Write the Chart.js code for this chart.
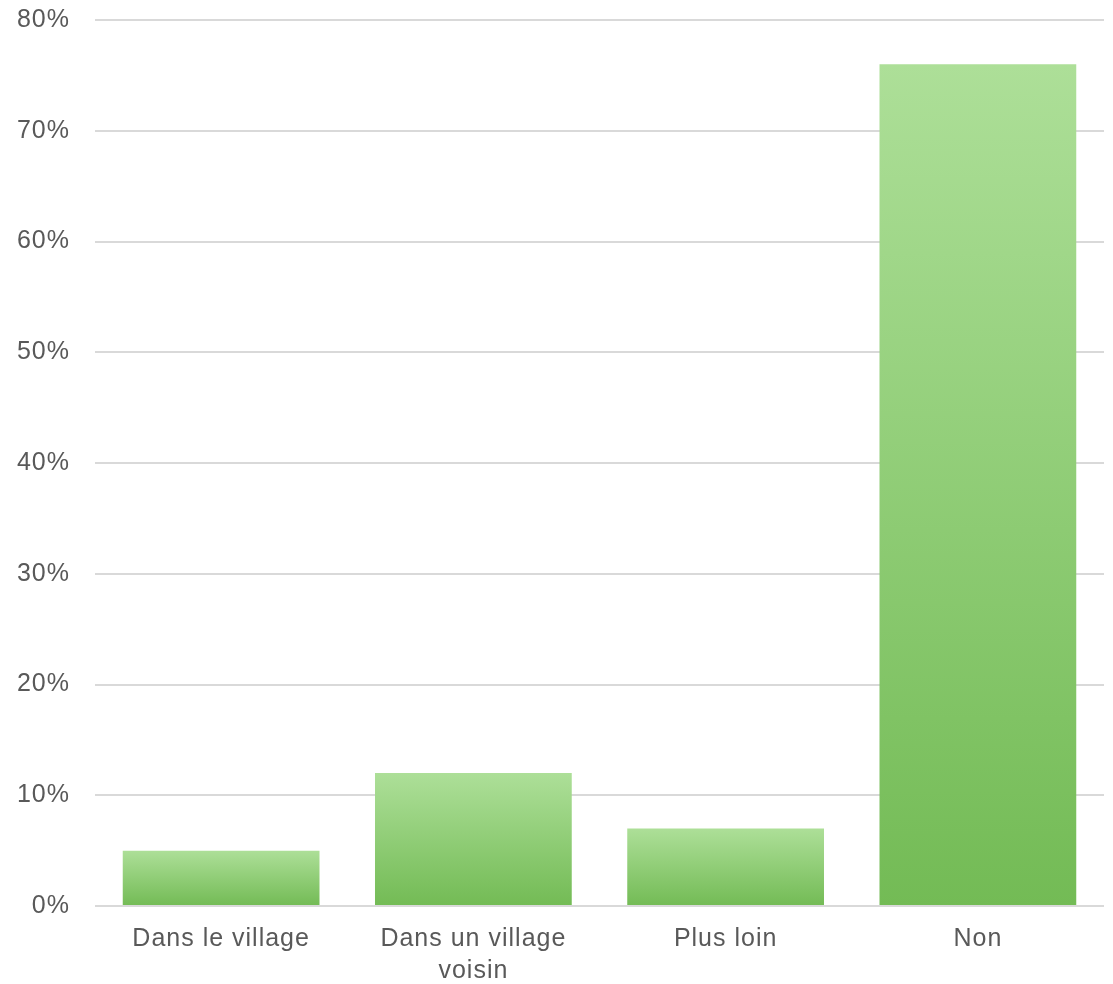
<!DOCTYPE html>
<html>
<head>
<meta charset="utf-8">
<script src="https://cdn.jsdelivr.net/npm/chart.js@4/dist/chart.umd.min.js"></script>
<style>
  html, body { margin: 0; padding: 0; background: #ffffff; }
  #wrap { width: 1113px; height: 984px; position: relative; }
</style>
</head>
<body>
<div id="wrap"><canvas id="c" width="1113" height="984"></canvas></div>
<script>
const categories = [["Dans le village"], ["Dans un village", "voisin"], ["Plus loin"], ["Non"]];
const values = [5, 12, 7, 76];
const yTicks = [0, 10, 20, 30, 40, 50, 60, 70, 80];

function barGradient(ctx) {
  const chart = ctx.chart;
  const ys = chart.scales.y;
  if (!ys || ctx.type !== 'data') return '#8fcf73';
  const v = ctx.raw;
  const top = ys.getPixelForValue(v);
  const base = ys.getPixelForValue(0);
  if (!isFinite(top) || !isFinite(base) || top === base) return '#8fcf73';
  const g = chart.ctx.createLinearGradient(0, top, 0, base);
  g.addColorStop(0, '#addf98');
  g.addColorStop(1, '#73bb55');
  return g;
}

const spacingPlugin = {
  id: 'spacing',
  beforeDraw(chart) { chart.ctx.letterSpacing = '1px'; }
};

new Chart(document.getElementById('c'), {
  type: 'bar',
  plugins: [spacingPlugin],
  data: {
    labels: categories,
    datasets: [{
      data: values,
      backgroundColor: barGradient,
      borderWidth: 0,
      barPercentage: 0.78,
      categoryPercentage: 1.0
    }]
  },
  options: {
    responsive: false,
    animation: false,
    devicePixelRatio: 1,
    layout: { padding: { top: 20, right: 9, bottom: 0, left: 0 } },
    plugins: { legend: { display: false }, tooltip: { enabled: false } },
    scales: {
      x: {
        grid: { display: false, drawTicks: false },
        border: { display: false },
        ticks: {
          color: '#595959',
          font: { family: "'Liberation Sans', Arial, sans-serif", size: 25, lineHeight: 1.28 },
          padding: 17,
          maxRotation: 0,
          autoSkip: false
        },
        afterFit: (s) => { s.height = 78; s.paddingLeft = 0; s.paddingRight = 0; }
      },
      y: {
        min: 0,
        max: 80,
        afterBuildTicks: (s) => { s.ticks = yTicks.map(v => ({ value: v })); },
        grid: { color: '#d9d9d9', lineWidth: 2, drawTicks: false },
        border: { display: false },
        ticks: {
          color: '#595959',
          font: { family: "'Liberation Sans', Arial, sans-serif", size: 25 },
          padding: 25,
          callback: (v) => v + '%'
        },
        afterFit: (s) => { s.width = 95; s.paddingTop = 0; s.paddingBottom = 0; }
      }
    }
  }
});
</script>
</body>
</html>
